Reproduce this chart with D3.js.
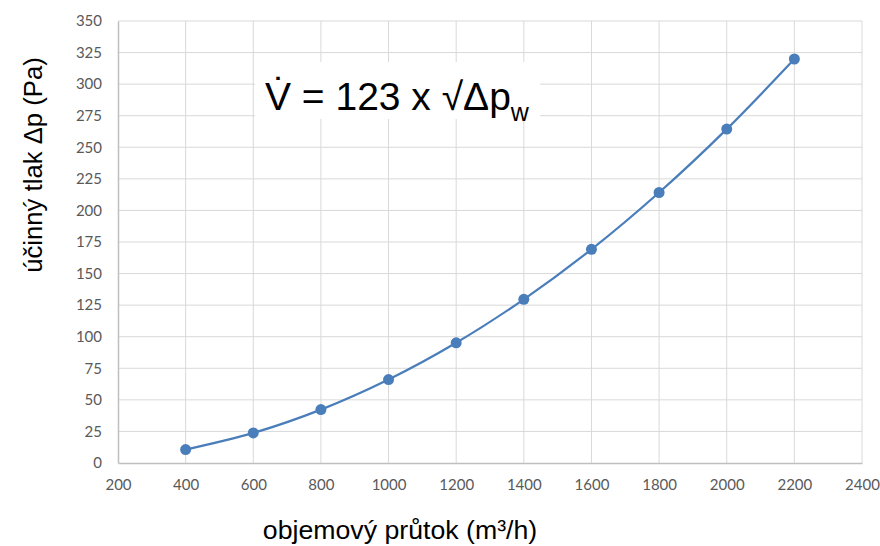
<!DOCTYPE html>
<html>
<head>
<meta charset="utf-8">
<script src="https://cdn.jsdelivr.net/npm/d3@7"></script>
<style>
	body { margin: 0; background: white; }
	svg { display: block; }
</style>
</head>
<body>
<div id="chart"></div>
<script>
// flow rate (m³/h) vs. effective pressure (Pa)
var flowValues = [400, 600, 800, 1000, 1200, 1400, 1600, 1800, 2000, 2200];
var pressureValues = [10.6, 23.8, 42.3, 66.1, 95.2, 129.6, 169.2, 214.2, 264.4, 319.9];
var xTicks = [200, 400, 600, 800, 1000, 1200, 1400, 1600, 1800, 2000, 2200, 2400];
var yTicks = [0, 25, 50, 75, 100, 125, 150, 175, 200, 225, 250, 275, 300, 325, 350];

var width = 880, height = 546;
var margin = {top: 21, right: 18, bottom: 83, left: 118};

var svg = d3.select('#chart').append('svg')
	.attr('width', width)
	.attr('height', height);

var x = d3.scaleLinear().domain([200, 2400]).range([margin.left, width - margin.right]);
var y = d3.scaleLinear().domain([0, 350]).range([height - margin.bottom, margin.top]);

// gridlines
svg.append('g')
	.selectAll('line.v')
	.data(xTicks.slice(1))
	.enter().append('line')
	.attr('x1', d => x(d)).attr('x2', d => x(d))
	.attr('y1', y(0)).attr('y2', y(350))
	.style('stroke', '#d9d9d9').style('stroke-width', '1px');

svg.append('g')
	.selectAll('line.h')
	.data(yTicks.slice(1))
	.enter().append('line')
	.attr('x1', x(200)).attr('x2', x(2400))
	.attr('y1', d => y(d)).attr('y2', d => y(d))
	.style('stroke', '#d9d9d9').style('stroke-width', '1px');

// axes
var xAxis = svg.append('g')
	.attr('transform', 'translate(0,' + y(0) + ')')
	.call(d3.axisBottom(x).tickValues(xTicks).tickFormat(d3.format('d')).tickSize(0).tickPadding(16));
var yAxis = svg.append('g')
	.attr('transform', 'translate(' + x(200) + ',0)')
	.call(d3.axisLeft(y).tickValues(yTicks).tickFormat(d3.format('d')).tickSize(0).tickPadding(16));

[xAxis, yAxis].forEach(function(a) {
	a.select('.domain').style('stroke', '#bfbfbf').style('stroke-width', '1.5px');
	a.selectAll('text')
		.style('font-family', 'Lato, "Open Sans", sans-serif')
		.style('font-size', '15px')
		.style('fill', '#595959');
});

// formula box
var box = svg.append('g');
box.append('rect')
	.attr('x', 255).attr('y', 62)
	.attr('width', 285).attr('height', 57)
	.style('fill', 'white');
var formula = box.append('text')
	.attr('x', 265).attr('y', 110)
	.style('font-family', 'Arial, "Liberation Sans", sans-serif')
	.style('font-size', '39px')
	.style('fill', 'black');
formula.append('tspan').text('V\u0307 = 123 x \u221A\u0394p');
formula.append('tspan').attr('dy', 11).style('font-size', '25px').text('w');

// curve
var line = d3.line()
	.x(function(d, i) { return x(flowValues[i]); })
	.y(function(d) { return y(d); })
	.curve(d3.curveCatmullRom.alpha(0.5));

svg.append('path')
	.datum(pressureValues)
	.attr('d', line)
	.style('fill', 'none')
	.style('stroke', '#4a7ebb')
	.style('stroke-width', '2.25px');

svg.append('g')
	.selectAll('circle')
	.data(pressureValues)
	.enter().append('circle')
	.attr('cx', function(d, i) { return x(flowValues[i]); })
	.attr('cy', function(d) { return y(d); })
	.attr('r', 5.5)
	.style('fill', '#4a7ebb');

// axis titles
svg.append('text')
	.attr('transform', 'translate(42,' + 165 + ') rotate(-90)')
	.style('text-anchor', 'middle')
	.style('font-family', 'Arial, "Liberation Sans", sans-serif')
	.style('font-size', '25.7px')
	.text('účinný tlak Δp (Pa)');

svg.append('text')
	.attr('x', 400).attr('y', 539)
	.style('text-anchor', 'middle')
	.style('font-family', 'Arial, "Liberation Sans", sans-serif')
	.style('font-size', '26.7px')
	.text('objemový průtok (m³/h)');
</script>
</body>
</html>
